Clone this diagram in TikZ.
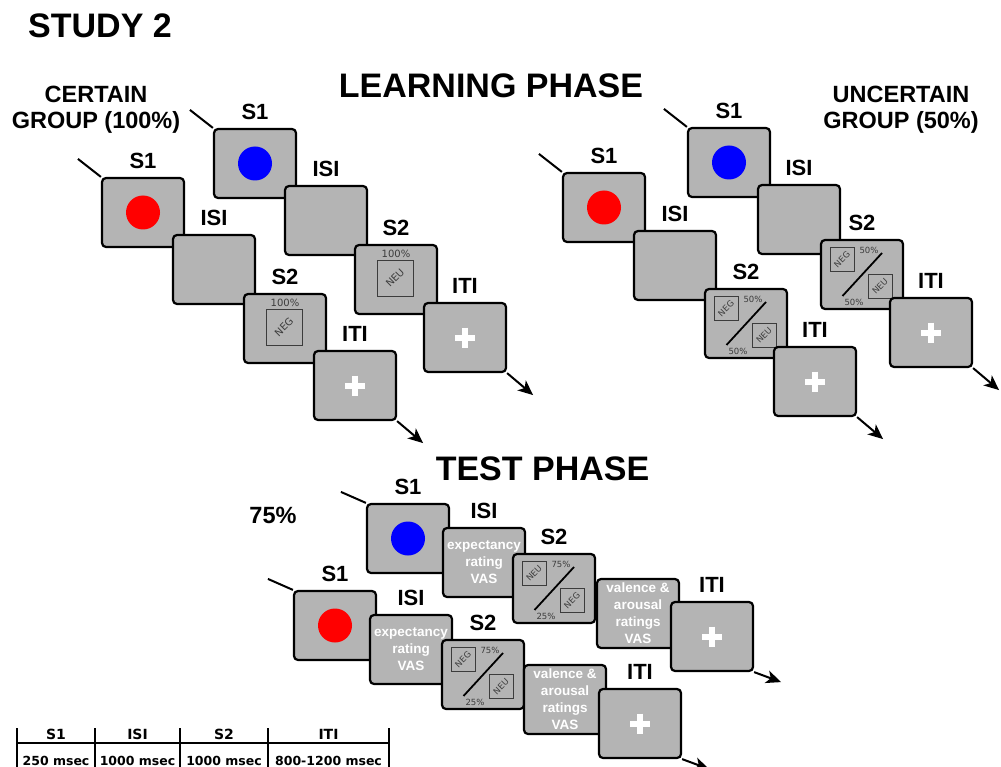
\documentclass[tikz,border=0pt]{standalone}
\usepackage{fontspec}
\setmainfont{Liberation Sans}
\newfontfamily\vfont{DejaVu Sans}
\usetikzlibrary{arrows.meta,positioning}
\definecolor{scrgray}{RGB}{180,180,180}
\definecolor{txtgray}{RGB}{60,60,60}

\begin{document}
\begin{tikzpicture}[
    x=1pt, y=-1pt,
    scr/.style={rectangle, draw, line width=2.2pt, rounded corners=4pt, fill=scrgray, minimum width=82pt, minimum height=69pt, inner sep=0pt},
    tag/.style={font=\bfseries\fontsize{22}{22}\selectfont, inner sep=0pt},
    head/.style={font=\bfseries\fontsize{34}{34}\selectfont, inner sep=0pt},
    grp/.style={font=\bfseries\fontsize{23.5}{26}\selectfont, inner sep=0pt, align=center},
    dot/.style={circle, minimum size=34pt, inner sep=0pt},
    cue/.style={rectangle, draw=txtgray, line width=0.8pt, minimum size=24pt, inner sep=0pt, text=txtgray, font=\vfont\fontsize{8.5}{8.5}\selectfont},
    bigcue/.style={cue, minimum size=36pt, font=\vfont\fontsize{10}{10}\selectfont},
    pct/.style={inner sep=0pt, text=txtgray, font=\vfont\fontsize{8.5}{8.5}\selectfont},
    rating/.style={inner sep=0pt, align=center, text=white, font=\bfseries\fontsize{13.5}{17}\selectfont},
    cell/.style={inner sep=0pt, font=\vfont\bfseries\fontsize{12.5}{12.5}\selectfont},
    cellhead/.style={cell, font=\vfont\bfseries\fontsize{14}{14}\selectfont},
    flow/.style={-{Stealth[length=15pt, width=13pt, inset=4pt]}, line width=2pt},
    tail/.style={line width=2pt},
    split/.style={line width=1.8pt},
    rule/.style={line width=1.8pt},
    pics/cross/.style={code={\draw[white, line width=6pt] (-10,0) -- (10,0) (0,-10) -- (0,10);}},
    pics/twocue/.style n args={4}{code={
        \node[cue] (-a) at (-20,-15) {\rotatebox{45}{#1}};
        \node[pct] (-pa) at (7,-24.5) {#2\%};
        \node[cue] (-b) at (18,12) {\rotatebox{45}{#3}};
        \node[pct] (-pb) at (-8,27.5) {#4\%};
        \draw[split] (-19.5,21.5) -- (20,-21.5);
    }}
]
\useasboundingbox (0,0) rectangle (1001,767);

% Headings
\node[head] (study) at (100,26) {STUDY 2};
\node[head] (learn) at (491,86) {LEARNING PHASE};
\node[head] (testph) at (542.5,469) {TEST PHASE};
\node[grp] (certain) at (96,110) {CERTAIN\\GROUP (100\%)};
\node[grp] (uncertain) at (901,110) {UNCERTAIN\\GROUP (50\%)};
\node[grp] (prob) at (273,515) {75\%};

% Learning phase: certain group, red CS
\node[scr] (cr-s1) at (143,212.5) {};
\node[dot, fill=red] (cr-dot) at (cr-s1) {};
\node[scr] (cr-isi) at ([shift={(71,57)}]cr-s1.center) {};
\node[scr] (cr-s2) at ([shift={(71,59)}]cr-isi.center) {};
\node[bigcue] (cr-neg) at ([shift={(-1,-1.5)}]cr-s2.center) {\rotatebox{45}{NEG}};
\node[pct, font=\vfont\fontsize{10}{10}\selectfont] (cr-pct) at ([shift={(0,-26)}]cr-s2.center) {100\%};
\node[scr] (cr-iti) at ([shift={(70,57)}]cr-s2.center) {};
\pic at (cr-iti) {cross};
\node[tag, above=8pt of cr-s1] (cr-s1-t) {S1};
\node[tag, above=8pt of cr-isi] (cr-isi-t) {ISI};
\node[tag, above=8pt of cr-s2] (cr-s2-t) {S2};
\node[tag, above=8pt of cr-iti] (cr-iti-t) {ITI};
\coordinate (cr-in) at ([shift={(-23,-18)}]cr-s1.north west);
\coordinate (cr-out) at ([shift={(26,22)}]cr-iti.south east);
\draw[tail] (cr-in) -- (cr-s1.north west);
\draw[flow] (cr-iti.south east) -- (cr-out);

% Learning phase: certain group, blue CS
\node[scr] (cb-s1) at (255,163.5) {};
\node[dot, fill=blue] (cb-dot) at (cb-s1) {};
\node[scr] (cb-isi) at ([shift={(71,57)}]cb-s1.center) {};
\node[scr] (cb-s2) at ([shift={(70,59)}]cb-isi.center) {};
\node[bigcue] (cb-neu) at ([shift={(-1,-1.5)}]cb-s2.center) {\rotatebox{45}{NEU}};
\node[pct, font=\vfont\fontsize{10}{10}\selectfont] (cb-pct) at ([shift={(0,-26)}]cb-s2.center) {100\%};
\node[scr] (cb-iti) at ([shift={(69,58)}]cb-s2.center) {};
\pic at (cb-iti) {cross};
\node[tag, above=8pt of cb-s1] (cb-s1-t) {S1};
\node[tag, above=8pt of cb-isi] (cb-isi-t) {ISI};
\node[tag, above=8pt of cb-s2] (cb-s2-t) {S2};
\node[tag, above=8pt of cb-iti] (cb-iti-t) {ITI};
\coordinate (cb-in) at ([shift={(-23,-18)}]cb-s1.north west);
\coordinate (cb-out) at ([shift={(26,22)}]cb-iti.south east);
\draw[tail] (cb-in) -- (cb-s1.north west);
\draw[flow] (cb-iti.south east) -- (cb-out);

% Learning phase: uncertain group, red CS
\node[scr] (ur-s1) at (604,207.5) {};
\node[dot, fill=red] (ur-dot) at (ur-s1) {};
\node[scr] (ur-isi) at ([shift={(71,58)}]ur-s1.center) {};
\node[scr] (ur-s2) at ([shift={(71,58)}]ur-isi.center) {};
\pic (ur-c) at (ur-s2) {twocue={NEG}{50}{NEU}{50}};
\node[scr] (ur-iti) at ([shift={(69,58)}]ur-s2.center) {};
\pic at (ur-iti) {cross};
\node[tag, above=8pt of ur-s1] (ur-s1-t) {S1};
\node[tag, above=8pt of ur-isi] (ur-isi-t) {ISI};
\node[tag, above=8pt of ur-s2] (ur-s2-t) {S2};
\node[tag, above=8pt of ur-iti] (ur-iti-t) {ITI};
\coordinate (ur-in) at ([shift={(-23,-18)}]ur-s1.north west);
\coordinate (ur-out) at ([shift={(26,22)}]ur-iti.south east);
\draw[tail] (ur-in) -- (ur-s1.north west);
\draw[flow] (ur-iti.south east) -- (ur-out);

% Learning phase: uncertain group, blue CS
\node[scr] (ub-s1) at (729,162.5) {};
\node[dot, fill=blue] (ub-dot) at (ub-s1) {};
\node[scr] (ub-isi) at ([shift={(70,57)}]ub-s1.center) {};
\node[scr] (ub-s2) at ([shift={(63,55)}]ub-isi.center) {};
\pic (ub-c) at (ub-s2) {twocue={NEG}{50}{NEU}{50}};
\node[scr] (ub-iti) at ([shift={(69,58)}]ub-s2.center) {};
\pic at (ub-iti) {cross};
\node[tag, above=8pt of ub-s1] (ub-s1-t) {S1};
\node[tag, above=8pt of ub-isi] (ub-isi-t) {ISI};
\node[tag, above=8pt of ub-s2] (ub-s2-t) {S2};
\node[tag, above=8pt of ub-iti] (ub-iti-t) {ITI};
\coordinate (ub-in) at ([shift={(-23,-18)}]ub-s1.north west);
\coordinate (ub-out) at ([shift={(26,22)}]ub-iti.south east);
\draw[tail] (ub-in) -- (ub-s1.north west);
\draw[flow] (ub-iti.south east) -- (ub-out);

% Test phase: blue CS
\node[scr] (tu-s1) at (408,538.5) {};
\node[dot, fill=blue] (tu-dot) at (tu-s1) {};
\node[scr] (tu-isi) at ([shift={(76,24)}]tu-s1.center) {};
\node[rating] (tu-exp) at (tu-isi) {expectancy\\rating\\VAS};
\node[scr] (tu-s2) at ([shift={(70,26)}]tu-isi.center) {};
\pic (tu-c) at (tu-s2) {twocue={NEU}{75}{NEG}{25}};
\node[scr] (tu-val) at ([shift={(84,25)}]tu-s2.center) {};
\node[rating] (tu-rat) at (tu-val) {valence \&\\arousal\\ratings\\VAS};
\node[scr] (tu-iti) at ([shift={(74,23)}]tu-val.center) {};
\pic at (tu-iti) {cross};
\node[tag, above=8pt of tu-s1] (tu-s1-t) {S1};
\node[tag, above=8pt of tu-isi] (tu-isi-t) {ISI};
\node[tag, above=8pt of tu-s2] (tu-s2-t) {S2};
\node[tag, above=8pt of tu-iti] (tu-iti-t) {ITI};
\coordinate (tu-in) at ([shift={(-25,-11)}]tu-s1.north west);
\coordinate (tu-out) at ([shift={(27,10)}]tu-iti.south east);
\draw[tail] (tu-in) -- (tu-s1.north west);
\draw[flow] (tu-iti.south east) -- (tu-out);

% Test phase: red CS
\node[scr] (tl-s1) at (335,625.5) {};
\node[dot, fill=red] (tl-dot) at (tl-s1) {};
\node[scr] (tl-isi) at ([shift={(76,24)}]tl-s1.center) {};
\node[rating] (tl-exp) at (tl-isi) {expectancy\\rating\\VAS};
\node[scr] (tl-s2) at ([shift={(72,25)}]tl-isi.center) {};
\pic (tl-c) at (tl-s2) {twocue={NEG}{75}{NEU}{25}};
\node[scr] (tl-val) at ([shift={(82,25)}]tl-s2.center) {};
\node[rating] (tl-rat) at (tl-val) {valence \&\\arousal\\ratings\\VAS};
\node[scr] (tl-iti) at ([shift={(75,24)}]tl-val.center) {};
\pic at (tl-iti) {cross};
\node[tag, above=8pt of tl-s1] (tl-s1-t) {S1};
\node[tag, above=8pt of tl-isi] (tl-isi-t) {ISI};
\node[tag, above=8pt of tl-s2] (tl-s2-t) {S2};
\node[tag, above=8pt of tl-iti] (tl-iti-t) {ITI};
\coordinate (tl-in) at ([shift={(-25,-11)}]tl-s1.north west);
\coordinate (tl-out) at ([shift={(27,10)}]tl-iti.south east);
\draw[tail] (tl-in) -- (tl-s1.north west);
\draw[flow] (tl-iti.south east) -- (tl-out);

% Timing table
\draw[rule] (17,743) -- (389,743);
\foreach \x in {17,95,180,268,389}
    \draw[rule] (\x,728) -- (\x,767);
\node[cellhead] (tab-s1) at (56,734.5) {S1};
\node[cellhead] (tab-isi) at (137.5,734.5) {ISI};
\node[cellhead] (tab-s2) at (224,734.5) {S2};
\node[cellhead] (tab-iti) at (328.5,734.5) {ITI};
\node[cell] (tab-t1) at (56,760.5) {250 msec};
\node[cell] (tab-t2) at (137.5,760.5) {1000 msec};
\node[cell] (tab-t3) at (224,760.5) {1000 msec};
\node[cell] (tab-t4) at (328.5,760.5) {800-1200 msec};

\end{tikzpicture}
\end{document}
